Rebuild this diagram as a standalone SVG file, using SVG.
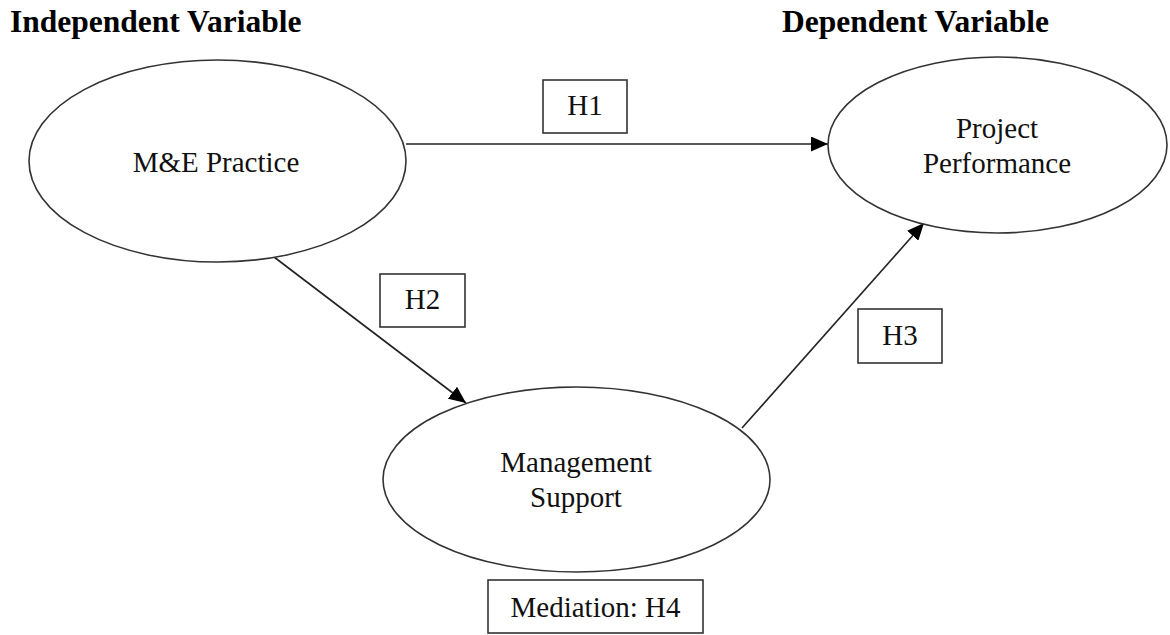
<svg xmlns="http://www.w3.org/2000/svg" width="1170" height="635" viewBox="0 0 1170 635">
  <style>
    .hdr { font-family: "Liberation Serif", "Times New Roman", serif; font-weight: bold; font-size: 31.5px; fill: #000; }
    .lbl { font-family: "Liberation Serif", "Times New Roman", serif; font-size: 29px; fill: #111; text-anchor: middle; }
    .node { fill: #fff; stroke: #333; stroke-width: 1.6; }
    .box { fill: #fff; stroke: #333; stroke-width: 1.6; }
    .edge { stroke: #222; stroke-width: 1.6; fill: none; marker-end: url(#arrow); }
  </style>
  <defs>
    <marker id="arrow" markerUnits="userSpaceOnUse" viewBox="0 0 17 15" refX="17" refY="7.5" markerWidth="17" markerHeight="15" orient="auto">
      <path d="M0,0 L17,7.5 L0,15 z" fill="#000"/>
    </marker>
  </defs>
  <rect width="1170" height="635" fill="#fff"/>

  <text class="hdr" x="10" y="32">Independent Variable</text>
  <text class="hdr" x="782" y="32">Dependent Variable</text>

  <g id="connectors">
    <line class="edge" x1="406" y1="144" x2="828" y2="144"/>
    <line class="edge" x1="274" y1="257" x2="466" y2="403"/>
    <line class="edge" x1="742" y1="428" x2="924" y2="223"/>
  </g>

  <g id="node-me-practice">
    <ellipse class="node" cx="217.5" cy="161" rx="188.5" ry="101"/>
    <text class="lbl" x="216" y="172">M&amp;E Practice</text>
  </g>

  <g id="node-project-performance">
    <ellipse class="node" cx="997.5" cy="145" rx="169.5" ry="88"/>
    <text class="lbl" x="997" y="138">Project</text>
    <text class="lbl" x="997" y="173">Performance</text>
  </g>

  <g id="node-management-support">
    <ellipse class="node" cx="576.5" cy="479.5" rx="193.5" ry="92.5"/>
    <text class="lbl" x="576" y="472">Management</text>
    <text class="lbl" x="576" y="507">Support</text>
  </g>

  <g id="label-h1">
    <rect class="box" x="543" y="80" width="84" height="53"/>
    <text class="lbl" x="585" y="115">H1</text>
  </g>

  <g id="label-h2">
    <rect class="box" x="380" y="274" width="85" height="53"/>
    <text class="lbl" x="422.5" y="309">H2</text>
  </g>

  <g id="label-h3">
    <rect class="box" x="858" y="309" width="84" height="54"/>
    <text class="lbl" x="900" y="345">H3</text>
  </g>

  <g id="label-h4">
    <rect class="box" x="488" y="580" width="215" height="53"/>
    <text class="lbl" x="595.5" y="617">Mediation: H4</text>
  </g>
</svg>
